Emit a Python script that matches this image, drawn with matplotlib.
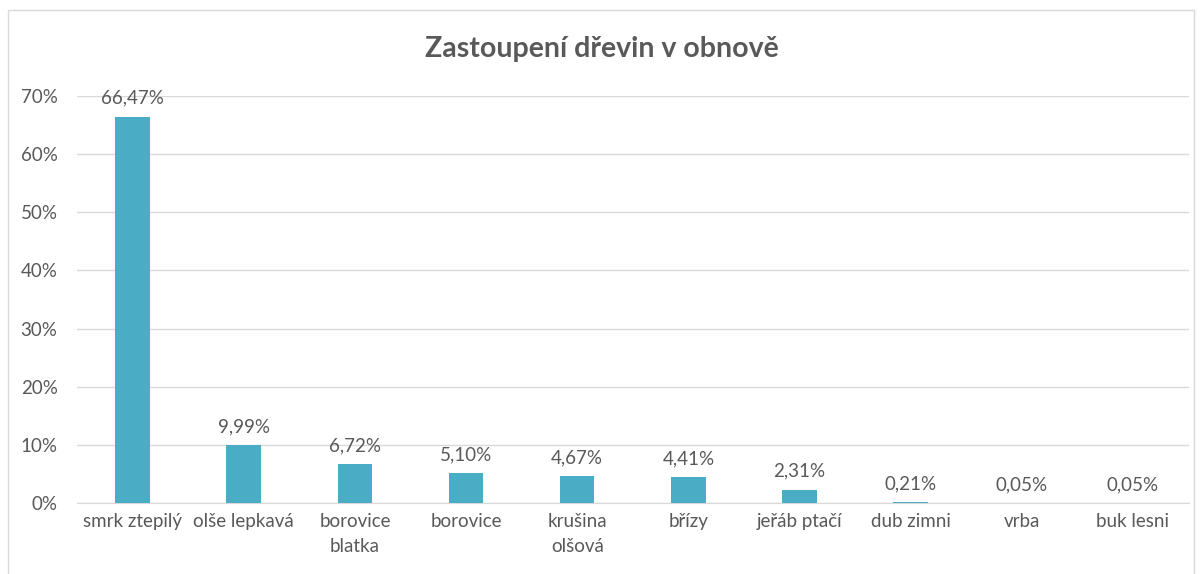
import matplotlib
matplotlib.use('agg')
import matplotlib.pyplot as plt
from matplotlib.patches import Rectangle

# data
species = ['smrk ztepilý', 'olše lepkavá', 'borovice\nblatka', 'borovice', 'krušina\nolšová',
           'břízy', 'jeřáb ptačí', 'dub zimni', 'vrba', 'buk lesni']
shares = [66.47, 9.99, 6.72, 5.10, 4.67, 4.41, 2.31, 0.21, 0.05, 0.05]
y_ticks = [0, 10, 20, 30, 40, 50, 60, 70]

text_col = '#595959'
bar_col = '#4BACC6'
grid_col = '#D9D9D9'

plt.rcParams['font.family'] = ['Lato', 'DejaVu Sans']

fig = plt.figure(figsize=(12.03, 5.74), dpi=100)
ax = fig.add_axes([0.064, 0.1237, 0.924, 0.709])

x = range(len(species))
ax.bar(x, shares, width=0.31, color=bar_col, zorder=3)

for i, v in zip(x, shares):
    lab = ('%.2f%%' % v).replace('.', ',')
    ax.annotate(lab, (i, v), xytext=(0, 7), textcoords='offset points',
                ha='center', va='bottom', fontsize=13.5, color=text_col, annotation_clip=False)

ax.set_xlim(-0.5, len(species) - 0.5)
ax.set_ylim(0, 70)
ax.set_yticks(y_ticks)
ax.set_yticklabels(['%d%%' % t for t in y_ticks])
ax.set_xticks(list(x))
ax.set_xticklabels(species, linespacing=1.6)
ax.tick_params(axis='both', length=0, labelsize=13.5, labelcolor=text_col)
ax.tick_params(axis='x', pad=7)
ax.tick_params(axis='y', pad=14)
ax.grid(axis='y', color=grid_col, linewidth=1, zorder=0)
for side in ['top', 'right', 'left']:
    ax.spines[side].set_visible(False)
ax.spines['bottom'].set_color(grid_col)

fig.text(0.5, 0.915, 'Zastoupení dřevin v obnově', ha='center', va='center',
         fontsize=20.5, fontweight='bold', color=text_col)

# chart border
fig.add_artist(Rectangle((8 / 1203, -0.01), 1186 / 1203, 1 - 10 / 574 + 0.01,
                         transform=fig.transFigure, fill=False, edgecolor='#D9D9D9', linewidth=1))

fig.savefig('out.png', dpi=100)
plt.close(fig)
